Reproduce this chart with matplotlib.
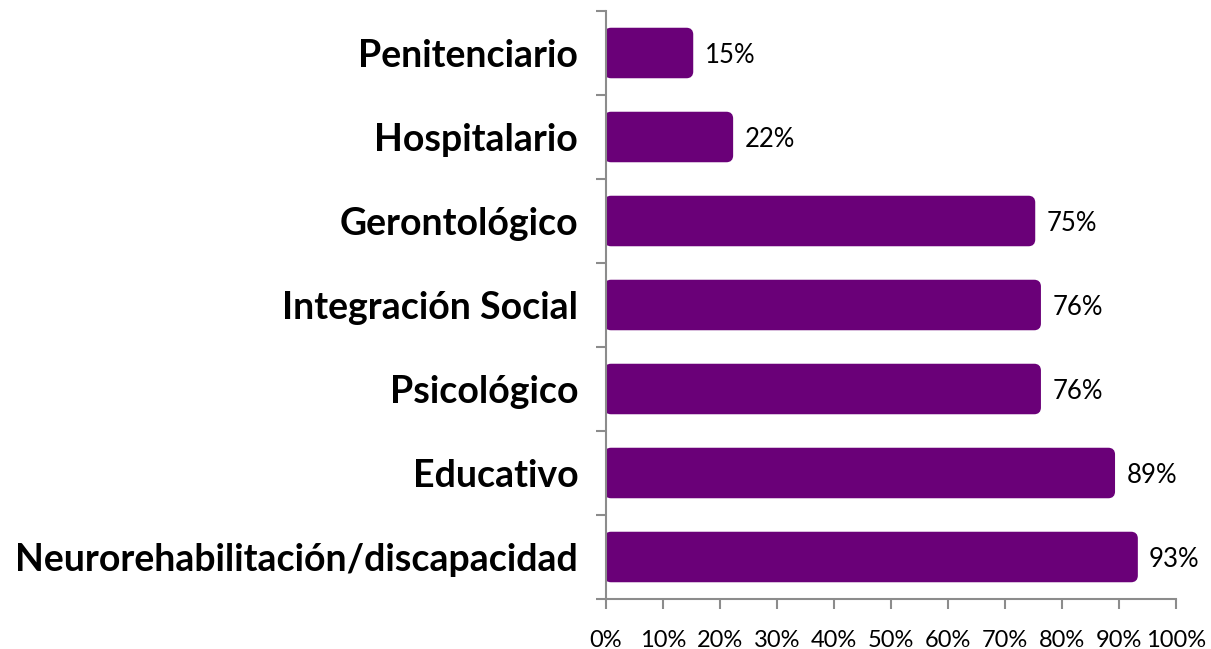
import matplotlib
matplotlib.use("Agg")
import matplotlib.pyplot as plt
from matplotlib.patches import FancyBboxPatch

# data (top to bottom as shown)
categorias = ["Penitenciario", "Hospitalario", "Gerontológico", "Integración Social",
              "Psicológico", "Educativo", "Neurorehabilitación/discapacidad"]
valores = [15, 22, 75, 76, 76, 89, 93]
xticks = [0, 10, 20, 30, 40, 50, 60, 70, 80, 90, 100]

color = "#6a0078"
gris = "#8c8c8c"

fig = plt.figure(figsize=(12.11, 6.49), dpi=100)
ax = fig.add_axes([606 / 1211, 50 / 649, 570 / 1211, 588 / 649])

# bottom category first so the list reads top to bottom
cats = categorias[::-1]
vals = valores[::-1]
ypos = list(range(len(cats)))

bars = ax.barh(ypos, vals, height=0.56, color=color)

# rounded corners: swap each bar for a rounded box of the same geometry
px_x = 100 / 570
px_y = 7 / 588
for b in bars:
    b.set_visible(False)
    x0, y0 = b.get_x(), b.get_y()
    w, h = b.get_width(), b.get_height()
    p = FancyBboxPatch((x0, y0), w, h,
                       boxstyle="round,pad=0,rounding_size=%f" % (5 * px_x),
                       mutation_aspect=px_y / px_x,
                       facecolor=color, edgecolor=color, linewidth=2.5, zorder=2)
    ax.add_patch(p)

for y, v in zip(ypos, vals):
    ax.text(v + 13 * px_x, y, "%d%%" % v, va="center_baseline", ha="left",
            fontsize=18.5, family="Lato", color="black")

ax.set_xlim(0, 100)
ax.set_ylim(-0.5, len(cats) - 0.5)
ax.set_xticks(xticks)
ax.set_xticklabels(["%d%%" % t for t in xticks], fontsize=17, family="Lato")

ax.set_yticks(ypos)
ax.set_yticklabels(cats, fontsize=27, fontweight="bold", family="Lato")
ax.set_yticks([i - 0.5 for i in range(len(cats) + 1)], minor=True)
ax.tick_params(axis="y", which="major", length=0, pad=20)
ax.tick_params(axis="y", which="minor", length=7, color=gris, width=1.5)
ax.tick_params(axis="x", length=7, color=gris, width=1.5, pad=15)

for s in ["top", "right"]:
    ax.spines[s].set_visible(False)
ax.spines["left"].set_color(gris)
ax.spines["bottom"].set_color(gris)
ax.spines["left"].set_linewidth(1.5)
ax.spines["bottom"].set_linewidth(1.5)

fig.savefig("out.png", dpi=100)
